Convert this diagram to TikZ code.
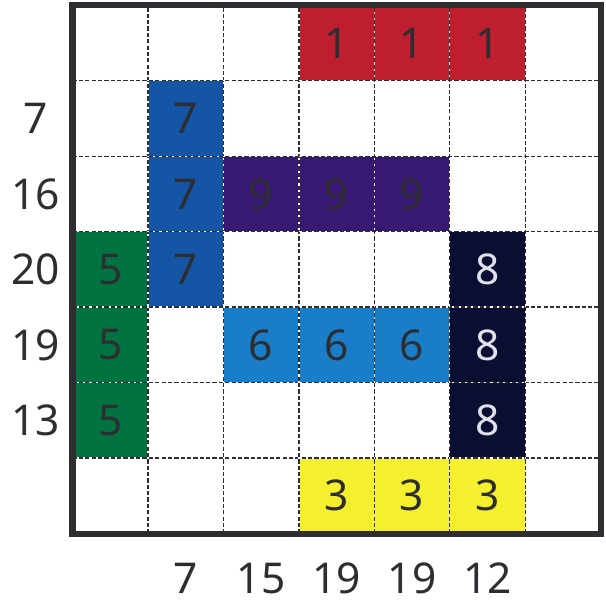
\documentclass[tikz,border=0pt]{standalone}
\usepackage{fontspec}
\setmainfont{Noto Sans}
\usepackage{xcolor}
\definecolor{C1}{RGB}{190,30,45}
\definecolor{C3}{RGB}{245,240,45}
\definecolor{C5}{RGB}{0,115,65}
\definecolor{C6}{RGB}{25,125,200}
\definecolor{C7}{RGB}{20,85,165}
\definecolor{C8}{RGB}{10,15,50}
\definecolor{C9}{RGB}{55,25,115}
\definecolor{DG}{RGB}{45,45,50}
\definecolor{LT}{RGB}{225,225,235}

\begin{document}
\begin{tikzpicture}[
  cell/.style={minimum size=1cm, inner sep=0pt,
               font=\fontsize{16}{18}\selectfont, text=DG},
  clue/.style={font=\fontsize{16}{18}\selectfont, text=DG},
  gridline/.style={DG, line width=0.5pt, dash pattern=on 1.6pt off 0.8pt}
]
\useasboundingbox (-0.96,-0.96) rectangle (7.07,7.07);

% coloured pieces
\node[cell, fill=C1] (r1c4) at (3.5,6.5) {1};
\node[cell, fill=C1] (r1c5) at (4.5,6.5) {1};
\node[cell, fill=C1] (r1c6) at (5.5,6.5) {1};
\node[cell, fill=C7] (r2c2) at (1.5,5.5) {7};
\node[cell, fill=C7] (r3c2) at (1.5,4.5) {7};
\node[cell, fill=C7] (r4c2) at (1.5,3.5) {7};
\node[cell, fill=C9] (r3c3) at (2.5,4.5) {9};
\node[cell, fill=C9] (r3c4) at (3.5,4.5) {9};
\node[cell, fill=C9] (r3c5) at (4.5,4.5) {9};
\node[cell, fill=C5] (r4c1) at (0.5,3.5) {5};
\node[cell, fill=C5] (r5c1) at (0.5,2.5) {5};
\node[cell, fill=C5] (r6c1) at (0.5,1.5) {5};
\node[cell, fill=C8, text=LT] (r4c6) at (5.5,3.5) {8};
\node[cell, fill=C8, text=LT] (r5c6) at (5.5,2.5) {8};
\node[cell, fill=C8, text=LT] (r6c6) at (5.5,1.5) {8};
\node[cell, fill=C6] (r5c3) at (2.5,2.5) {6};
\node[cell, fill=C6] (r5c4) at (3.5,2.5) {6};
\node[cell, fill=C6] (r5c5) at (4.5,2.5) {6};
\node[cell, fill=C3] (r7c4) at (3.5,0.5) {3};
\node[cell, fill=C3] (r7c5) at (4.5,0.5) {3};
\node[cell, fill=C3] (r7c6) at (5.5,0.5) {3};

% dashed grid
\foreach \i in {1,...,6} {
  \draw[white, line width=0.5pt] (\i,0) -- (\i,7);
  \draw[white, line width=0.5pt] (0,\i) -- (7,\i);
  \draw[gridline] (\i,0) -- (\i,7);
  \draw[gridline] (0,\i) -- (7,\i);
}
\draw[DG, line width=2.3pt] (0,0) rectangle (7,7);

% row clues
\node[clue] (row2) at (-0.49,5.5) {7};
\node[clue] (row3) at (-0.49,4.5) {16};
\node[clue] (row4) at (-0.49,3.5) {20};
\node[clue] (row5) at (-0.49,2.5) {19};
\node[clue] (row6) at (-0.49,1.5) {13};

% column clues
\node[clue] (col2) at (1.5,-0.59) {7};
\node[clue] (col3) at (2.5,-0.59) {15};
\node[clue] (col4) at (3.5,-0.59) {19};
\node[clue] (col5) at (4.5,-0.59) {19};
\node[clue] (col6) at (5.5,-0.59) {12};
\end{tikzpicture}
\end{document}
